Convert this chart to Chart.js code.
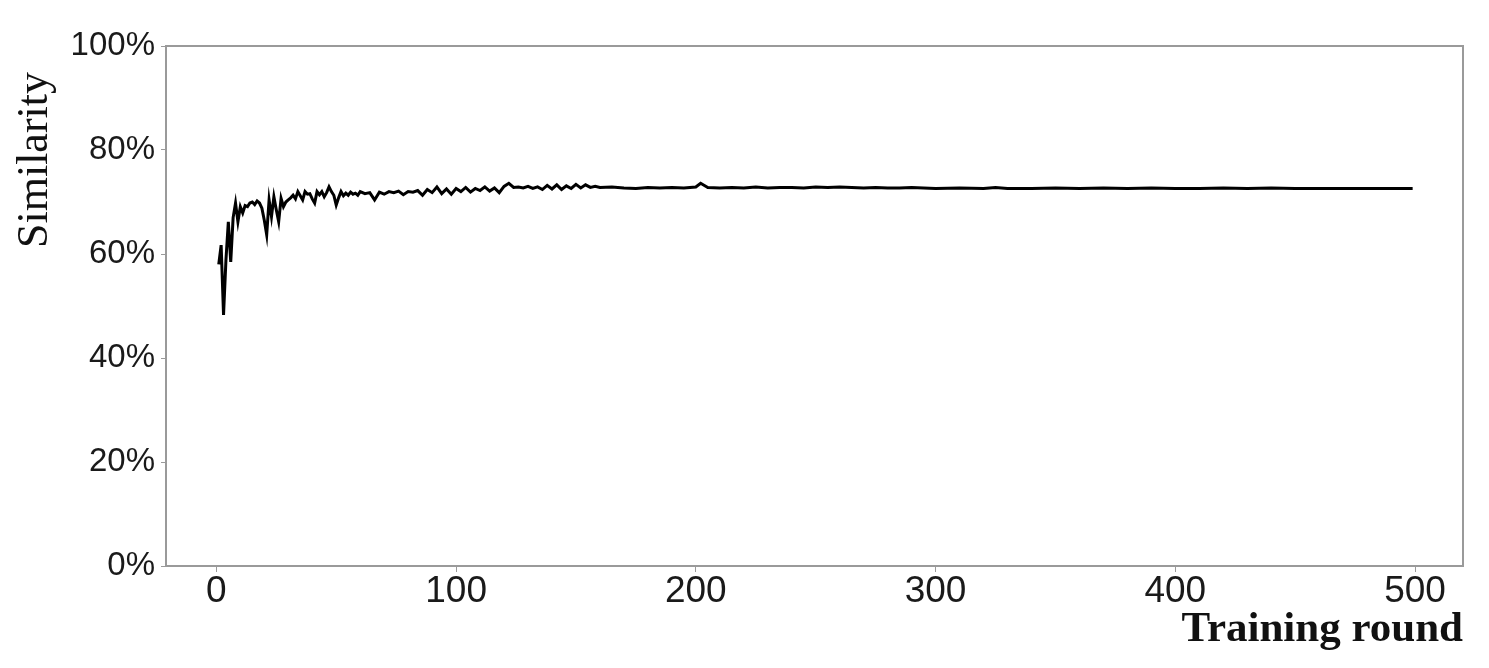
<!DOCTYPE html>
<html>
<head>
<meta charset="utf-8">
<script src="https://cdn.jsdelivr.net/npm/chart.js@4"></script>
<style>
  html, body { margin: 0; padding: 0; background: #fff; }
  #wrap { width: 1489px; height: 668px; }
</style>
</head>
<body>
<div id="wrap"><canvas id="simChart" width="1489" height="668"></canvas></div>
<script>
// Chart data
const rounds = [
  1, 2, 3, 4, 5, 6, 7, 8, 9, 10,
  11, 12, 13, 14, 15, 16, 17, 18, 19, 20,
  21, 22, 23, 24, 25, 26, 27, 28, 29, 30,
  31, 32, 33, 34, 35, 36, 37, 38, 39, 40,
  41, 42, 43, 44, 45, 46, 47, 48, 49, 50,
  51, 52, 53, 54, 55, 56, 57, 58, 59, 60,
  62, 64, 66, 68, 70, 72, 74, 76, 78, 80,
  82, 84, 86, 88, 90, 92, 94, 96, 98, 100,
  102, 104, 106, 108, 110, 112, 114, 116, 118, 120,
  122, 124, 126, 128, 130, 132, 134, 136, 138, 140,
  142, 144, 146, 148, 150, 152, 154, 156, 158, 160,
  165, 170, 175, 180, 185, 190, 195, 200, 202, 205,
  210, 215, 220, 225, 230, 235, 240, 245, 250, 255,
  260, 265, 270, 275, 280, 285, 290, 295, 300, 310,
  320, 325, 330, 340, 350, 360, 370, 380, 390, 400,
  410, 420, 430, 440, 450, 460, 470, 480, 490, 499
];
const similarity = [
  58.0, 61.7, 48.3, 58.8, 66.2, 58.5, 67.0, 69.8, 66.2, 69.1,
  67.9, 69.3, 69.1, 69.8, 70.0, 69.5, 70.2, 69.8, 68.8, 66.5,
  63.7, 70.4, 67.2, 71.0, 68.5, 66.2, 70.7, 69.1, 70.0, 70.4,
  70.8, 71.3, 70.6, 72.0, 71.2, 70.4, 72.0, 71.5, 71.6, 70.6,
  69.8, 72.0, 71.4, 72.0, 71.0, 71.8, 72.9, 72.0, 71.3, 69.4,
  70.8, 72.0, 71.2, 71.7, 71.3, 71.9, 71.5, 71.7, 71.3, 72.0,
  71.6, 71.8, 70.4, 71.9, 71.5, 72.0, 71.8, 72.1, 71.4, 72.0,
  71.9, 72.2, 71.3, 72.4, 71.8, 72.9, 71.6, 72.5, 71.5, 72.6,
  72.0, 72.8, 71.9, 72.6, 72.2, 72.9, 72.1, 72.7, 71.8, 73.0,
  73.6, 72.8, 72.9, 72.7, 73.0, 72.6, 72.9, 72.4, 73.2, 72.5,
  73.3, 72.4, 73.1, 72.6, 73.4, 72.7, 73.3, 72.8, 73.0, 72.8,
  72.9, 72.7, 72.6, 72.8, 72.7, 72.8, 72.7, 72.9, 73.6, 72.8,
  72.7, 72.8, 72.7, 72.9, 72.7, 72.8, 72.8, 72.7, 72.9, 72.8,
  72.9, 72.8, 72.7, 72.8, 72.7, 72.7, 72.8, 72.7, 72.6, 72.7,
  72.6, 72.8, 72.6, 72.6, 72.7, 72.6, 72.7, 72.6, 72.7, 72.6,
  72.6, 72.7, 72.6, 72.7, 72.6, 72.6, 72.6, 72.6, 72.6, 72.6
];
const xTicks = [0, 100, 200, 300, 400, 500];
const yTicks = [0, 20, 40, 60, 80, 100];

// box around the plot area + rotated y title
const frame = {
  id: 'frame',
  afterDraw(chart) {
    const { ctx, chartArea: a } = chart;
    ctx.save();
    ctx.strokeStyle = '#9a9a9a';
    ctx.lineWidth = 2;
    ctx.strokeRect(a.left, a.top, a.right - a.left, a.bottom - a.top);
    ctx.translate(35, 160);
    ctx.rotate(-Math.PI / 2);
    ctx.fillStyle = '#111';
    ctx.font = '44px "Liberation Serif", serif';
    ctx.textAlign = 'center';
    ctx.textBaseline = 'middle';
    ctx.fillText('Similarity', 0, 0);
    ctx.restore();
  }
};

const ctx = document.getElementById('simChart').getContext('2d');
new Chart(ctx, {
  type: 'line',
  data: {
    datasets: [{
      label: 'Similarity',
      data: rounds.map((r, i) => ({ x: r, y: similarity[i] })),
      borderColor: '#000',
      borderWidth: 3,
      pointRadius: 0,
      tension: 0,
      fill: false
    }]
  },
  options: {
    responsive: false,
    animation: false,
    layout: { padding: { top: 46, right: 26, left: 0, bottom: 0 } },
    plugins: {
      legend: { display: false },
      tooltip: { enabled: false }
    },
    scales: {
      x: {
        type: 'linear',
        min: -21,
        max: 520,
        afterFit: s => { s.height = 102; },
        afterBuildTicks: s => { s.ticks = xTicks.map(v => ({ value: v })); },
        grid: { drawOnChartArea: false, drawTicks: true, tickLength: 6, color: '#9a9a9a' },
        border: { display: false },
        ticks: {
          padding: -2,
          color: '#1a1a1a',
          font: { family: '"Liberation Sans", Arial, sans-serif', size: 37 }
        },
        title: {
          display: true,
          text: 'Training round',
          align: 'end',
          color: '#111',
          padding: { top: 0, bottom: 12 },
          font: { family: '"Liberation Serif", serif', size: 43, weight: 'bold' }
        }
      },
      y: {
        min: 0,
        max: 100,
        afterFit: s => { s.width = 166; },
        afterBuildTicks: s => { s.ticks = yTicks.map(v => ({ value: v })); },
        grid: { drawOnChartArea: false, drawTicks: true, tickLength: 5, color: '#9a9a9a' },
        border: { display: false },
        ticks: {
          padding: 6,
          color: '#1a1a1a',
          font: { family: '"Liberation Sans", Arial, sans-serif', size: 33 },
          callback: v => v + '%'
        }
      }
    }
  },
  plugins: [frame]
});
</script>
</body>
</html>
